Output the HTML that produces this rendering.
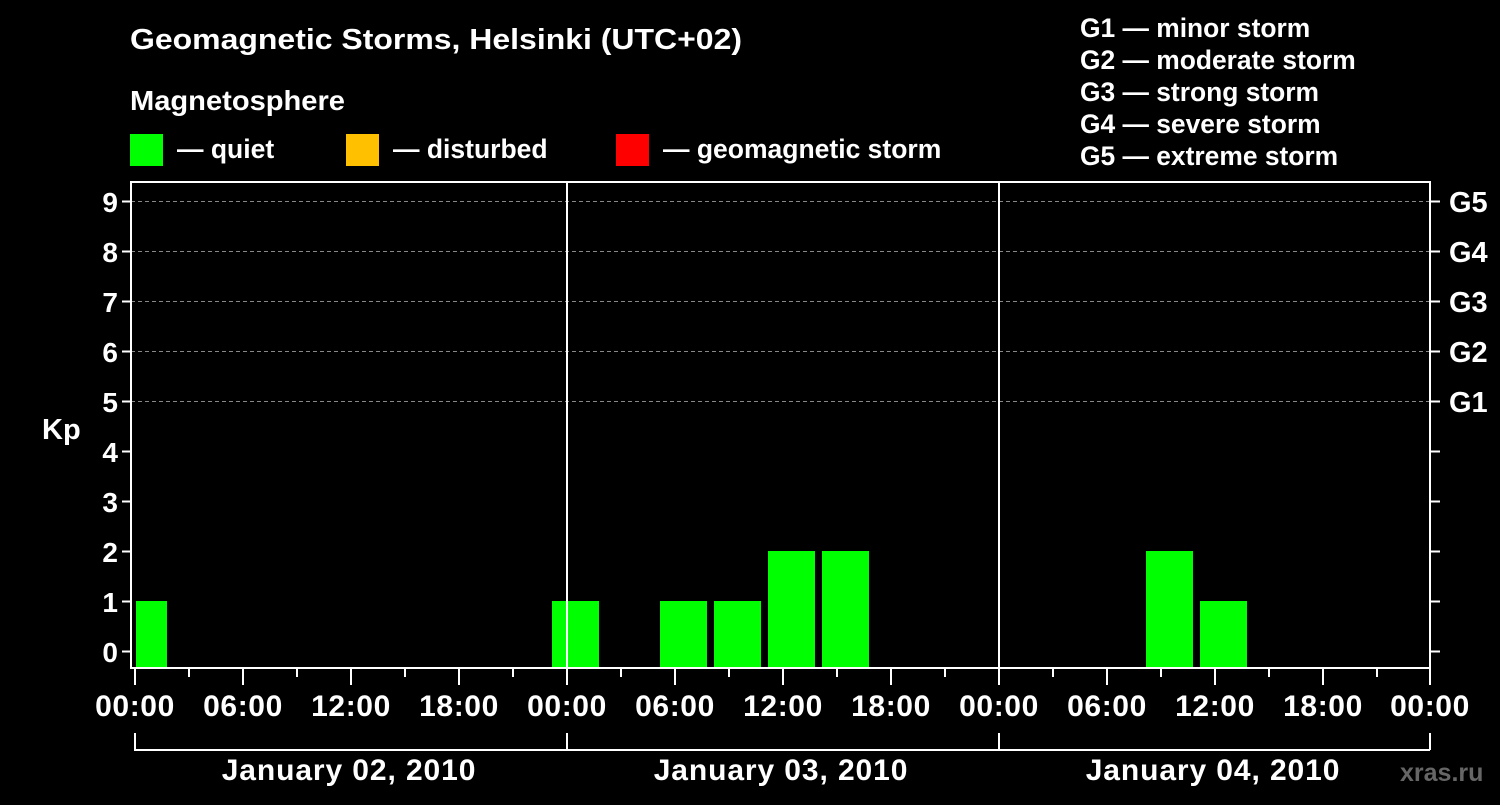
<!DOCTYPE html>
<html><head><style>
html,body{margin:0;padding:0;background:#000;}
svg text{font-family:"Liberation Sans",Arial,sans-serif;font-weight:bold;fill:#fff;}
</style></head><body>
<svg width="1500" height="800" xmlns="http://www.w3.org/2000/svg">
<rect width="1500" height="800" fill="#000"/>
<text x="130" y="49" font-size="29" textLength="612" lengthAdjust="spacingAndGlyphs">Geomagnetic Storms, Helsinki (UTC+02)</text>
<text x="130" y="110" font-size="28" textLength="215" lengthAdjust="spacingAndGlyphs">Magnetosphere</text>
<rect x="130" y="134" width="33" height="32" fill="#00ff00"/>
<text x="177" y="158" font-size="26.5">— quiet</text>
<rect x="346" y="134" width="33" height="32" fill="#ffc000"/>
<text x="393" y="158" font-size="26.5">— disturbed</text>
<rect x="616" y="134" width="33" height="32" fill="#ff0000"/>
<text x="663" y="158" font-size="26.5">— geomagnetic storm</text>
<g font-size="26.4">
<text x="1080" y="37">G1 — minor storm</text>
<text x="1080" y="69">G2 — moderate storm</text>
<text x="1080" y="101">G3 — strong storm</text>
<text x="1080" y="133">G4 — severe storm</text>
<text x="1080" y="165">G5 — extreme storm</text>
</g>
<g stroke="#888" stroke-dasharray="4,3" stroke-width="1">
<line x1="131" x2="1430" y1="201.5" y2="201.5"/>
<line x1="131" x2="1430" y1="251.5" y2="251.5"/>
<line x1="131" x2="1430" y1="301.5" y2="301.5"/>
<line x1="131" x2="1430" y1="351.5" y2="351.5"/>
<line x1="131" x2="1430" y1="401.5" y2="401.5"/>
</g>
<g fill="#00ff00">
<rect x="136" y="601" width="31" height="67"/>
<rect x="552" y="601" width="47" height="67"/>
<rect x="660" y="601" width="47" height="67"/>
<rect x="714" y="601" width="47" height="67"/>
<rect x="768" y="551" width="47" height="117"/>
<rect x="822" y="551" width="47" height="117"/>
<rect x="1146" y="551" width="47" height="117"/>
<rect x="1200" y="601" width="47" height="67"/>
</g>
<g stroke="#fff" stroke-width="2" fill="none">
<rect x="131" y="182" width="1299" height="486"/>
<line x1="567" y1="182" x2="567" y2="668"/>
<line x1="999" y1="182" x2="999" y2="668"/>
</g>
<g stroke="#fff" stroke-width="2">
<path d="M122 201.5H131M122 251.5H131M122 301.5H131M122 351.5H131M122 401.5H131M122 451.5H131M122 501.5H131M122 551.5H131M122 601.5H131M122 651.5H131"/>
<path d="M1430 201.5H1440M1430 251.5H1440M1430 301.5H1440M1430 351.5H1440M1430 401.5H1440M1430 451.5H1440M1430 501.5H1440M1430 551.5H1440M1430 601.5H1440M1430 651.5H1440"/>
<path d="M135 669V685M243 669V685M351 669V685M459 669V685M567 669V685M675 669V685M783 669V685M891 669V685M999 669V685M1107 669V685M1215 669V685M1323 669V685M1430 669V685"/>
<path d="M189 669V677M297 669V677M405 669V677M513 669V677M621 669V677M729 669V677M837 669V677M945 669V677M1053 669V677M1161 669V677M1269 669V677M1377 669V677"/>
<path d="M135 733V750H1430M567 733V750M999 733V750M1430 733V750" fill="none"/>
</g>
<g font-size="28" text-anchor="end">
<text x="118" y="212">9</text><text x="118" y="262">8</text><text x="118" y="312">7</text>
<text x="118" y="362">6</text><text x="118" y="412">5</text><text x="118" y="462">4</text>
<text x="118" y="512">3</text><text x="118" y="562">2</text><text x="118" y="612">1</text>
<text x="118" y="662">0</text>
</g>
<text x="42" y="439" font-size="29">Kp</text>
<g font-size="29">
<text x="1449" y="212">G5</text><text x="1449" y="262">G4</text><text x="1449" y="312">G3</text>
<text x="1449" y="362">G2</text><text x="1449" y="412">G1</text>
</g>
<g font-size="30" text-anchor="middle" letter-spacing="0.6">
<text x="135" y="716">00:00</text><text x="243" y="716">06:00</text><text x="351" y="716">12:00</text><text x="459" y="716">18:00</text>
<text x="567" y="716">00:00</text><text x="675" y="716">06:00</text><text x="783" y="716">12:00</text><text x="891" y="716">18:00</text>
<text x="999" y="716">00:00</text><text x="1107" y="716">06:00</text><text x="1215" y="716">12:00</text><text x="1323" y="716">18:00</text>
<text x="1430" y="716">00:00</text>
</g>
<g font-size="30" text-anchor="middle" letter-spacing="0.9">
<text x="349" y="780">January 02, 2010</text>
<text x="781" y="780">January 03, 2010</text>
<text x="1213" y="780">January 04, 2010</text>
</g>
<text x="1400" y="781" font-size="25" style="fill:#666">xras.ru</text>
</svg>
</body></html>
